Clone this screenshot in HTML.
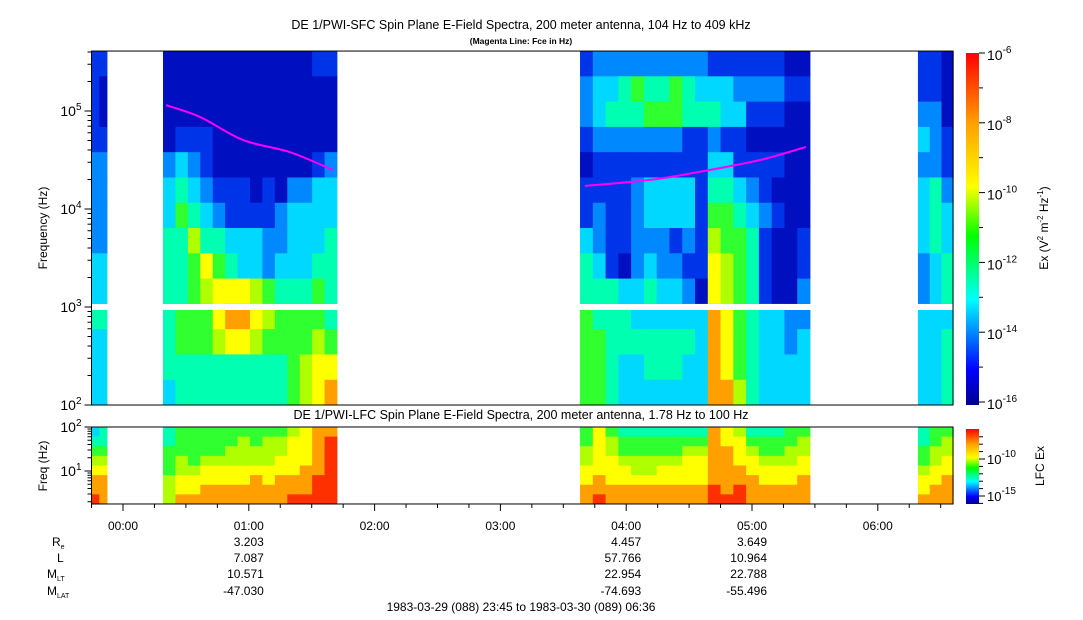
<!DOCTYPE html>
<html><head><meta charset="utf-8"><style>
html,body{margin:0;padding:0;background:#fff;}
svg{display:block;font-family:"Liberation Sans",sans-serif;}
</style></head><body>
<svg id="chart" width="1083" height="620" viewBox="0 0 1083 620" xmlns="http://www.w3.org/2000/svg">
<text x="521" y="29" font-size="12.5" text-anchor="middle">DE 1/PWI-SFC  Spin Plane E-Field Spectra, 200 meter antenna, 104 Hz to 409 kHz</text>
<text x="521" y="44" font-size="8.5" font-weight="bold" text-anchor="middle">(Magenta Line: Fce in Hz)</text>
<text x="521" y="419" font-size="12.5" text-anchor="middle">DE 1/PWI-LFC  Spin Plane E-Field Spectra, 200 meter antenna, 1.78 Hz to 100 Hz</text>
<g id="sfc"></g>
<g id="lfc"></g>
<g id="axes"></g>
<text transform="translate(47,228) rotate(-90)" font-size="12" text-anchor="middle">Frequency (Hz)</text>
<text transform="translate(47,466) rotate(-90)" font-size="12" text-anchor="middle">Freq (Hz)</text>
<text transform="translate(1048,228) rotate(-90)" font-size="12" text-anchor="middle">Ex (V<tspan font-size="8" dy="-5">2</tspan><tspan dy="5"> m</tspan><tspan font-size="8" dy="-5">-2</tspan><tspan dy="5"> Hz</tspan><tspan font-size="8" dy="-5">-1</tspan><tspan dy="5">)</tspan></text>
<text transform="translate(1044,466) rotate(-90)" font-size="12" text-anchor="middle">LFC Ex</text>
<text x="521" y="611" font-size="12" text-anchor="middle">1983-03-29 (088) 23:45 to 1983-03-30 (089) 06:36</text>
</svg>
<script>
const NS="http://www.w3.org/2000/svg";
// ---- data ----
const segStart=[-0.25,0.318,3.633,6.319];
const segEnd=[-0.127,1.701,5.461,6.6];
const sfcA=["11","10","10","11","22","22","22","22","33","33","44","33","33","33"];
const sfcB=["00000000000011","00000000000000","00000000000000","01110000000000","23210000000012","34321110102233","35432111123333","44644333223334","44575433233344","44567776544454","45557887655554","45556776555565","44444444445677","34444444445678"];
const sfcC=["122222222211111100","233454454333222211","234445554443311100","122222221121100000","011111111133111100","111123333144321000","121123333155432100","321122212165541001","431023221176541001","444334332076541002","544433333387543322","554444444387543323","554334443387543333","554333333388643333"];
const sfcD=["110","110","220","321","221","342","343","343","234","234","333","334","334","334"];
const lfcA=["34","44","55","66","77","88","88","98"];
const lfcB=["45555555556788","45555565667789","55555666667789","56566666677789","56677777777889","67777778788899","67788888888899","68888888889999"];
const lfcC=["575444444487644455","576555555587755556","676555556688765566","677666667788776667","777766777788877777","787777777788887778","888888888898988888","898888888899988888"];
const lfcD=["455","456","566","567","677","778","788","888"];
const fceTimeB=[0.342,0.612,0.954,1.328,1.669];
const fceB=[115000,87000,50600,38000,25000];
const fceTimeC=[3.672,4.189,4.587,5.064,5.429];
const fceC=[17200,19800,24000,31600,43000];
const timeTicks=[0,1,2,3,4,5,6];
const timeLabels=["00:00","01:00","02:00","03:00","04:00","05:00","06:00"];
const ephemTimes=[1,4,5];
const ephRe=["3.203","4.457","3.649"];
const ephL=["7.087","57.766","10.964"];
const ephMLT=["10.571","22.954","22.788"];
const ephMLAT=["-47.030","-74.693","-55.496"];
// ---- scales ----
const X0=91.5,X1=953;
const xs=t=>123+t*125.8;
const ys=lf=>111+(5-lf)*98;
const yl=lf=>471+(1-lf)*44;
const SFC_TOP=Math.log10(409000),SFC_BOT=2;
const LFC_TOP=2,LFC_BOT=Math.log10(1.78);
const cmap=["#0010c0","#0034e8","#0088ff","#00d8ff","#00ffb0","#30ff30","#b0ff00","#ffff00","#ffa000","#ff3000"];
function mk(tag,attrs,parent){const e=document.createElementNS(NS,tag);for(const k in attrs)e.setAttribute(k,attrs[k]);parent.appendChild(e);return e;}
const sfc=document.getElementById('sfc'),lfc=document.getElementById('lfc'),ax=document.getElementById('axes');
function drawGrid(grid,si,parent,top,bot,yf,name){
  const nr=grid.length,nc=grid[0].length;
  const t0=segStart[si],t1=segEnd[si];
  for(let r=0;r<nr;r++){for(let c=0;c<nc;c++){
    const v=+grid[r][c];
    const xa=xs(t0+(t1-t0)*c/nc),xb=xs(t0+(t1-t0)*(c+1)/nc);
    const la=top-(top-bot)*r/nr,lb=top-(top-bot)*(r+1)/nr;
    const ya=yf(la),yb=yf(lb);
    const el=mk('rect',{x:xa.toFixed(2),y:ya.toFixed(2),width:(xb-xa+0.4).toFixed(2),height:(yb-ya+0.4).toFixed(2),fill:cmap[v]},parent);
    
    
  }}
}
[sfcA,sfcB,sfcC,sfcD].forEach((g,i)=>drawGrid(g,i,sfc,SFC_TOP,SFC_BOT,ys,'sfc-cell'));
[lfcA,lfcB,lfcC,lfcD].forEach((g,i)=>drawGrid(g,i,lfc,LFC_TOP,LFC_BOT,yl,'lfc-cell'));
const gap=mk('rect',{x:X0,y:ys(3)-3,width:X1-X0,height:6,fill:'#fff'},sfc);


function fceLine(ts,vs){
  const pts=ts.map((t,i)=>[xs(t),ys(Math.log10(vs[i]))]);
  let d='M'+pts[0][0].toFixed(1)+','+pts[0][1].toFixed(1);
  for(let i=0;i<pts.length-1;i++){
    const p0=pts[Math.max(0,i-1)],p1=pts[i],p2=pts[i+1],p3=pts[Math.min(pts.length-1,i+2)];
    const c1=[p1[0]+(p2[0]-p0[0])/6,p1[1]+(p2[1]-p0[1])/6],c2=[p2[0]-(p3[0]-p1[0])/6,p2[1]-(p3[1]-p1[1])/6];
    d+=' C'+c1.join(',')+' '+c2.join(',')+' '+p2.join(',');
  }
  const p=mk('path',{d:d,fill:'none',stroke:'#ff00ff','stroke-width':2},sfc);
  
  
}
fceLine(fceTimeB,fceB);fceLine(fceTimeC,fceC);
const f1=mk('rect',{x:X0,y:ys(SFC_TOP),width:X1-X0,height:ys(SFC_BOT)-ys(SFC_TOP),fill:'none',stroke:'#000','stroke-width':1},ax);


const f2=mk('rect',{x:X0,y:yl(LFC_TOP),width:X1-X0,height:yl(LFC_BOT)-yl(LFC_TOP),fill:'none',stroke:'#000','stroke-width':1},ax);


function logTicks(lo,hi,yf,labelSize){
  for(let d=Math.floor(lo);d<=Math.ceil(hi);d++){for(let m=1;m<10;m++){
    const lf=d+Math.log10(m); if(lf<lo-1e-6||lf>hi+1e-6)continue;
    const y=yf(lf),len=m==1?7:4;
    const t=mk('line',{x1:X0-len,x2:X0,y1:y,y2:y,stroke:'#000'},ax);
    
    
    if(m==1){const tx=mk('text',{x:X0-10,y:y+5,'font-size':labelSize,'text-anchor':'end'},ax);
      
      
      tx.innerHTML='10<tspan font-size="10" dy="-6">'+d+'</tspan>';}
  }}
}
logTicks(SFC_BOT,SFC_TOP,ys,14);
logTicks(LFC_BOT,LFC_TOP,yl,14);
const yb=yl(LFC_BOT);
for(let q=-1;q<=26;q++){const t=q/4;if(xs(t)<X0||xs(t)>X1)continue;
  const len=q%4==0?7:4;
  const l=mk('line',{x1:xs(t),x2:xs(t),y1:yb,y2:yb+len,stroke:'#000'},ax);
  
  }
timeTicks.forEach((t,i)=>{const tx=mk('text',{x:xs(t)+15,y:530,'font-size':12,'text-anchor':'end'},ax);tx.textContent=timeLabels[i];
  
  });
const rowsY=[546,562,578,595];
[ephRe,ephL,ephMLT,ephMLAT].forEach((arr,r)=>{arr.forEach((v,i)=>{const tx=mk('text',{x:xs(ephemTimes[i])+15,y:rowsY[r],'font-size':12,'text-anchor':'end'},ax);tx.textContent=v;
  
  });});
const labs=['R<tspan font-size="7" dy="3">e</tspan>','L','M<tspan font-size="7" dy="3">LT</tspan>','M<tspan font-size="7" dy="3">LAT</tspan>'];
const labX=[52,57,47,47];
labs.forEach((s,r)=>{const tx=mk('text',{x:labX[r],y:rowsY[r],'font-size':12,'text-anchor':'start'},ax);tx.innerHTML=s;
  
  });
const defs=mk('defs',{},ax);
const g=mk('linearGradient',{id:'cg',x1:0,y1:1,x2:0,y2:0},defs);
const stops=[[0,"#000090"],[0.1,"#0000ff"],[0.2,"#0080ff"],[0.3,"#00ffff"],[0.48,"#00ff00"],[0.62,"#ffff00"],[0.8,"#ffa000"],[1,"#ff0000"]];
stops.forEach(s=>mk('stop',{offset:s[0],'stop-color':s[1]},g));
function cbar(y0,y1,name){const r=mk('rect',{x:966,y:y0,width:13,height:y1-y0,fill:'url(#cg)'},ax);
  
  }
cbar(53,405,'colorbar');cbar(429,504,'lfc-colorbar');
const cbExp=[-6,-8,-10,-12,-14,-16];
const cby=e=>53+(-6-e)*34.9;
for(let e=-6;e>=-16;e--){const y=cby(e);const l=mk('line',{x1:979,x2:e%2==0?985:983,y1:y,y2:y,stroke:'#000'},ax);
  
  }
cbExp.forEach(e=>{const tx=mk('text',{x:987,y:cby(e)+7,'font-size':14},ax);tx.innerHTML='10<tspan font-size="10" dy="-7">'+e+'</tspan>';
  
  });
const lfcExp=[-10,-15];
const lby=e=>459+(-10-e)*7.4;
for(let e=-7;e>=-16;e--){const y=lby(e);if(y<429||y>504)continue;const l=mk('line',{x1:979,x2:e%5==0?985:983,y1:y,y2:y,stroke:'#000'},ax);
  
  }
lfcExp.forEach(e=>{const tx=mk('text',{x:987,y:lby(e)+5,'font-size':13},ax);tx.innerHTML='10<tspan font-size="10" dy="-7">'+e+'</tspan>';
  
  });
</script>
</body></html>
